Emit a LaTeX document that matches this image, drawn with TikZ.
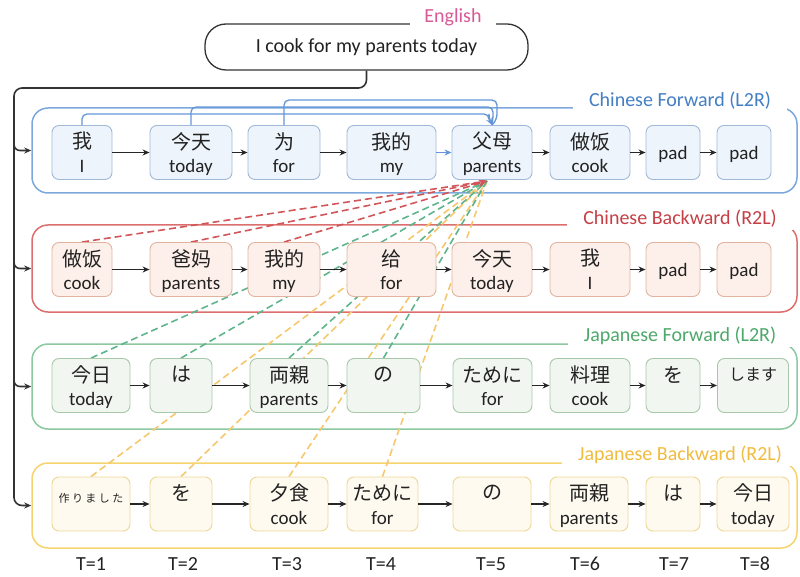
\documentclass[tikz,border=0pt]{standalone}
\usepackage{fontspec}
\setmainfont{Carlito}
\newfontfamily\zh{Noto Sans CJK SC}
\newfontfamily\ja{Noto Sans CJK JP}
\newfontfamily\jasp[LetterSpace=22]{Noto Sans CJK JP}
\usetikzlibrary{arrows.meta,calc}
\pgfdeclarelayer{bg}
\pgfdeclarelayer{mid}
\pgfsetlayers{bg,mid,main}
\definecolor{txt}{RGB}{34,34,34}
\definecolor{blueL}{RGB}{68,126,196}
\definecolor{blueB}{RGB}{125,168,220}
\definecolor{blueBB}{RGB}{160,185,215}
\definecolor{blueBF}{RGB}{238,244,251}
\definecolor{redL}{RGB}{196,64,70}
\definecolor{redB}{RGB}{220,110,110}
\definecolor{redBB}{RGB}{225,180,160}
\definecolor{redBF}{RGB}{253,240,234}
\definecolor{greenL}{RGB}{78,168,106}
\definecolor{greenB}{RGB}{140,200,160}
\definecolor{greenBB}{RGB}{168,200,170}
\definecolor{greenBF}{RGB}{242,246,241}
\definecolor{yelL}{RGB}{240,188,64}
\definecolor{yelB}{RGB}{245,212,110}
\definecolor{yelBB}{RGB}{240,214,150}
\definecolor{yelBF}{RGB}{255,250,240}
\definecolor{pinkL}{RGB}{215,90,150}
\definecolor{dRed}{RGB}{210,85,90}
\definecolor{dGreen}{RGB}{95,180,140}
\definecolor{dYel}{RGB}{246,200,110}
\definecolor{bConn}{RGB}{100,150,215}
\tikzset{
  wbox/.style={draw, rounded corners=7pt, line width=0.9pt, inner sep=0pt, minimum height=54pt},
  bbox/.style={wbox, draw=blueBB, fill=blueBF},
  rbox/.style={wbox, draw=redBB, fill=redBF},
  gbox/.style={wbox, draw=greenBB, fill=greenBF},
  ybox/.style={wbox, draw=yelBB, fill=yelBF},
  rowframe/.style={draw, rounded corners=16pt, line width=1.5pt, minimum width=765pt, inner sep=0pt},
  flabel/.style={fill=white, inner xsep=16pt, inner ysep=2pt, font=\fontsize{20}{24}\selectfont},
  cj/.style={font=\fontsize{20}{24}\selectfont, inner sep=0pt, text=txt},
  lt/.style={font=\fontsize{19}{22}\selectfont, inner sep=0pt, anchor=base, text=txt},
  arr/.style={-{Stealth[length=7pt,width=6pt]}, line width=1.2pt, draw=black!85},
  trunk/.style={line width=1.6pt, draw=black!80},
  dsh/.style={dash pattern=on 7pt off 4pt, line width=1.6pt},
  bconn/.style={draw=bConn, line width=1.3pt, rounded corners=5pt},
}
% name, style, x1, x2, yc, cjk, latin
\newcommand\boxtwo[7]{%
  \node[#2, minimum width={#4pt-#3pt}] (#1) at ({(#3+#4)/2},#5) {};
  \node[cj] (#1z) at ([yshift=11pt]#1.center) {#6};
  \node[lt] (#1e) at ([yshift=-20pt]#1.center) {#7};}
\newcommand\boxtop[6]{%
  \node[#2, minimum width={#4pt-#3pt}] (#1) at ({(#3+#4)/2},#5) {};
  \node[cj] (#1z) at ([yshift=11pt]#1.center) {#6};}
\newcommand\boxpad[5]{%
  \node[#2, minimum width={#4pt-#3pt}] (#1) at ({(#3+#4)/2},#5) {};
  \node[lt] (#1e) at ([yshift=-7pt]#1.center) {pad};}
\begin{document}
\begin{tikzpicture}[x=1pt,y=-1pt]
\useasboundingbox (0,0) rectangle (800,577);
% English
\node[draw=black!80, line width=1.3pt, rounded corners=21pt, minimum width=323pt, minimum height=46pt, inner sep=0pt,
      font=\fontsize{20}{24}\selectfont, text=txt] (eng) at (366.5,47) {I cook for my parents today};
\node[fill=white, inner xsep=14pt, inner ysep=2pt, text=pinkL, font=\fontsize{20}{24}\selectfont] (englab) at (453,17) {English};
% frames
\begin{pgfonlayer}{bg}
\node[rowframe, draw=blueB, minimum height=85pt] (f1) at (414.5,150.5) {};
\node[rowframe, draw=redB, minimum height=87pt] (f2) at (414.5,268.5) {};
\node[rowframe, draw=greenB, minimum height=85pt] (f3) at (414.5,386.5) {};
\node[rowframe, draw=yelB, minimum height=85pt] (f4) at (414.5,505.5) {};
\node[flabel, text=blueL] (l1) at (680,101) {Chinese Forward (L2R)};
\node[flabel, text=redL] (l2) at (680,219) {Chinese Backward (R2L)};
\node[flabel, text=greenL] (l3) at (680,336) {Japanese Forward (L2R)};
\node[flabel, text=yelL] (l4) at (680,455) {Japanese Backward (R2L)};
\end{pgfonlayer}
% row 1
\boxtwo{a1}{bbox}{52}{112}{152.5}{\zh 我}{I}
\boxtwo{a2}{bbox}{150}{232}{152.5}{\zh 今天}{today}
\boxtwo{a3}{bbox}{248}{320}{152.5}{\zh 为}{for}
\boxtwo{a4}{bbox}{347}{436}{152.5}{\zh 我的}{my}
\boxtwo{a5}{bbox}{452}{532}{152.5}{\zh 父母}{parents}
\boxtwo{a6}{bbox}{550}{630}{152.5}{\zh 做饭}{cook}
\boxpad{a7}{bbox}{646}{700}{152.5}
\boxpad{a8}{bbox}{717}{771}{152.5}
% row 2
\boxtwo{b1}{rbox}{52}{112}{269.5}{\zh 做饭}{cook}
\boxtwo{b2}{rbox}{150}{232}{269.5}{\zh 爸妈}{parents}
\boxtwo{b3}{rbox}{248}{320}{269.5}{\zh 我的}{my}
\boxtwo{b4}{rbox}{347}{436}{269.5}{\zh 给}{for}
\boxtwo{b5}{rbox}{452}{532}{269.5}{\zh 今天}{today}
\boxtwo{b6}{rbox}{550}{630}{269.5}{\zh 我}{I}
\boxpad{b7}{rbox}{646}{700}{269.5}
\boxpad{b8}{rbox}{717}{771}{269.5}
% row 3
\boxtwo{c1}{gbox}{52}{130}{385.5}{\ja 今日}{today}
\boxtop{c2}{gbox}{150}{212}{385.5}{\ja は}
\boxtwo{c3}{gbox}{250}{328}{385.5}{\ja 両親}{parents}
\boxtop{c4}{gbox}{347}{420}{385.5}{\ja の}
\boxtwo{c5}{gbox}{453}{532}{385.5}{\ja ために}{for}
\boxtwo{c6}{gbox}{550}{630}{385.5}{\ja 料理}{cook}
\boxtop{c7}{gbox}{646}{700}{385.5}{\ja を}
\node[gbox, minimum width=71pt] (c8) at (753,385.5) {};
\node[cj, font=\fontsize{16}{20}\selectfont] (c8z) at ([yshift=11pt]c8.center) {\ja します};
% row 4
\node[ybox, minimum width=78pt] (d1) at (91,504) {};
\node[inner sep=0pt, text=txt, font=\fontsize{11}{13}\selectfont] (d1z) at ([yshift=6pt]d1.center) {\jasp 作りました};
\boxtop{d2}{ybox}{150}{212}{504}{\ja を}
\boxtwo{d3}{ybox}{250}{328}{504}{\ja 夕食}{cook}
\boxtwo{d4}{ybox}{347}{418}{504}{\ja ために}{for}
\boxtop{d5}{ybox}{453}{531}{504}{\ja の}
\boxtwo{d6}{ybox}{550}{628}{504}{\ja 両親}{parents}
\boxtop{d7}{ybox}{646}{700}{504}{\ja は}
\boxtwo{d8}{ybox}{717}{789}{504}{\ja 今日}{today}
% arrows in rows
\foreach \r in {a,b,c,d}{
  \foreach \i/\j in {1/2,2/3,3/4,4/5,5/6,6/7,7/8}{
    \ifnum\i=4 \if\r a\else \draw[arr] (\r\i.east) -- (\r\j.west);\fi
    \else \draw[arr] (\r\i.east) -- (\r\j.west);\fi
  }}
\draw[arr, draw=bConn] (a4.east) -- (a5.west);
% trunk
\coordinate (tk) at (14,88);
\coordinate (t1) at (14,138);
\coordinate (t2) at (14,256);
\coordinate (t3) at (14,374);
\draw[trunk, rounded corners=8pt, -{Stealth[length=7pt,width=6pt]}] (eng.south) |- (tk) |- (f4.west);
\draw[trunk, rounded corners=6pt, -{Stealth[length=7pt,width=6pt]}] (t1) |- (f1.west);
\draw[trunk, rounded corners=6pt, -{Stealth[length=7pt,width=6pt]}] (t2) |- (f2.west);
\draw[trunk, rounded corners=6pt, -{Stealth[length=7pt,width=6pt]}] (t3) |- (f3.west);
% blue connectors
\coordinate (k1) at (489,114);
\coordinate (k1b) at (489,119);
\coordinate (k2) at (493,107);
\coordinate (k2b) at (493,119);
\coordinate (k3) at (497,100);
\coordinate (k3b) at (497,119);
\draw[bconn] (a3.north) |- (k3) -- (k3b) -- (a5.north);
\draw[bconn] (a2.north) |- (k2) -- (k2b) -- (a5.north);
\draw[bconn, -{Stealth[length=7pt,width=6pt]}] (a1.north) |- (k1) -- (k1b) -- (a5.north);
% dashed attention lines
\coordinate (D) at (487,181);
\begin{pgfonlayer}{mid}
\foreach \n in {d1,d2,d3,d4}{\draw[dsh, draw=dYel] (\n.north) -- (D);}
\foreach \n in {c1,c2,c3,c4}{\draw[dsh, draw=dGreen] (\n.north) -- (D);}
\foreach \n in {b1,b2,b3}{\draw[dsh, draw=dRed, -{Stealth[length=8pt,width=7pt]}] (\n.north) -- (D);}
\end{pgfonlayer}
% time labels
\foreach \t/\x in {1/91,2/183,3/287,4/381,5/491,6/585,7/674,8/755}{
  \node[text=txt, font=\fontsize{20}{24}\selectfont, inner sep=0pt] (T\t) at (\x,564) {T=\t};}
\end{tikzpicture}
\end{document}
